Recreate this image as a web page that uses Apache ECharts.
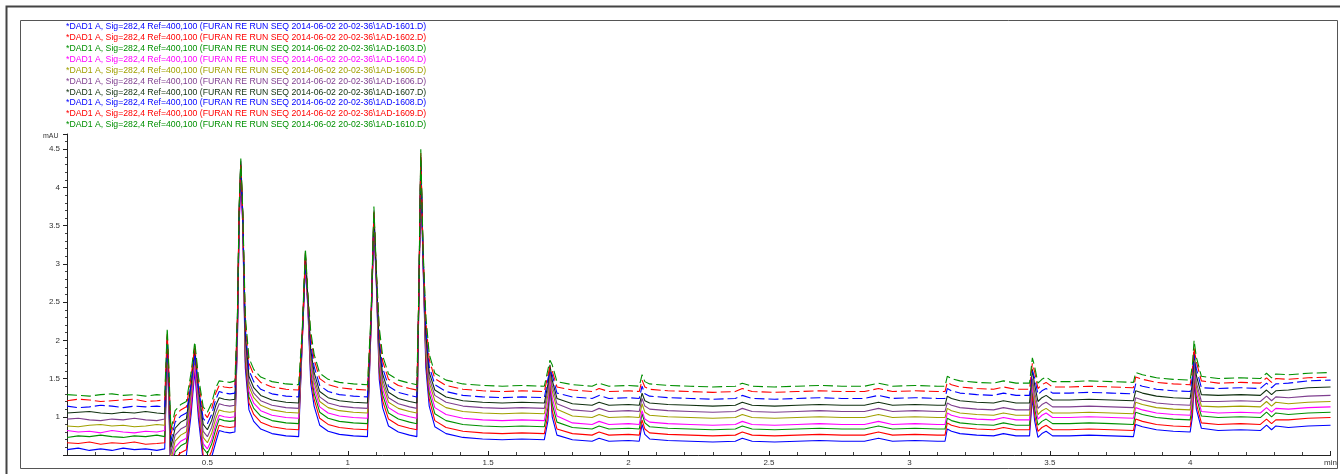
<!DOCTYPE html>
<html><head><meta charset="utf-8">
<script src="https://cdn.jsdelivr.net/npm/echarts@6/dist/echarts.min.js"></script>
<style>html,body{margin:0;padding:0;background:#fff}#c{width:1340px;height:474px}</style>
</head><body><div id="c"></div>
<script>
// retention time (min)
const times = [0,0.04,0.08,0.12,0.16,0.2,0.24,0.28,0.32,0.348,
0.357,0.363,0.37, 0.385,0.405,0.425, 0.442,0.455,0.468, 0.485,0.5,0.515,0.53, 0.542,0.56,0.58,0.598,
0.607,0.613,0.619,0.626,0.635,0.648, 0.665,0.69,0.73,0.78,0.825,
0.838,0.849,0.858,0.868,0.88, 0.9,0.93,0.97,1.02,1.07,
1.083,1.093,1.102,1.112,1.124, 1.145,1.18,1.22,1.246,
1.253,1.26,1.268,1.278,1.29, 1.31,1.35,1.41,1.48,1.55,1.62,1.7,
1.713,1.72,1.728,1.745, 1.8,1.87,1.895,1.93,2.0,2.038,
2.048,2.058,2.075,
2.14,2.22,2.3,2.38,2.405,2.44,2.52,2.6,2.68,2.76,2.84,2.89,2.94,3.02,3.1,3.127,
3.135,3.15,3.18,3.24,3.3,3.335,3.38,3.428,
3.438,3.446,3.458,3.472,3.487,3.51, 3.57,3.64,3.72,3.798,
3.806,3.83,3.88,3.94,4.0, 4.008,4.014,4.022,4.04, 4.1,4.18,4.25,
4.272,4.29,4.305,4.35,4.42,4.5];

// mAU values per run
const s1601 = [0.57,0.59,0.56,0.58,0.56,0.59,0.57,0.58,0.56,0.58,
1.85,1.11,0.12, 0.37,0.45,0.49, 1.03,1.6,0.98, 0.42,0.35,0.47,0.67, 0.82,0.8,0.79,0.8,
2.0,3.5,4.18,3.5,1.64,1.09, 0.94,0.84,0.78,0.75,0.74,
2.0,2.98,2.4,1.44,1.14, 0.89,0.81,0.77,0.75,0.74,
2.2,3.5,2.7,1.49,1.12, 0.88,0.8,0.76,0.74,
2.5,4.22,3.0,1.64,1.14, 0.87,0.78,0.73,0.71,0.7,0.71,0.7,
0.95,1.42,1.0,0.76, 0.7,0.68,0.72,0.68,0.69,0.68,
0.9,0.77,0.71,
0.69,0.68,0.67,0.68,0.72,0.68,0.67,0.68,0.69,0.68,0.68,0.72,0.68,0.69,0.68,0.68,
0.84,0.81,0.78,0.76,0.75,0.78,0.75,0.75,
1.25,0.95,0.73,0.78,0.81,0.75, 0.75,0.76,0.75,0.74,
0.9,0.87,0.83,0.81,0.8, 1.0,1.45,1.1,0.85, 0.82,0.83,0.82,
0.89,0.83,0.88,0.86,0.88,0.89];
const s1602 = [0.66,0.65,0.67,0.64,0.66,0.65,0.67,0.64,0.65,0.66,
1.9,1.18,0.2, 0.45,0.53,0.57, 1.12,1.7,1.07, 0.5,0.43,0.55,0.75, 0.89,0.87,0.86,0.87,
2.05,3.55,4.25,3.55,1.73,1.18, 1.03,0.93,0.87,0.84,0.83,
2.0,3.05,2.45,1.53,1.23, 0.98,0.9,0.86,0.84,0.83,
2.2,3.58,2.75,1.58,1.21, 0.97,0.89,0.85,0.83,
2.5,4.3,3.05,1.73,1.23, 0.95,0.86,0.81,0.79,0.78,0.79,0.78,
1.03,1.48,1.08,0.84, 0.78,0.76,0.8,0.76,0.77,0.76,
0.96,0.84,0.79,
0.77,0.76,0.75,0.76,0.8,0.76,0.75,0.76,0.77,0.76,0.76,0.8,0.76,0.77,0.76,0.76,
0.92,0.89,0.86,0.84,0.83,0.86,0.83,0.83,
1.3,1.03,0.81,0.86,0.89,0.83, 0.83,0.84,0.83,0.82,
0.97,0.94,0.9,0.88,0.87, 1.07,1.5,1.17,0.92, 0.9,0.91,0.9,
0.97,0.91,0.96,0.96,0.98,0.99];
const s1603 = [0.73,0.75,0.74,0.76,0.74,0.73,0.75,0.74,0.76,0.74,
1.95,1.25,0.29, 0.54,0.62,0.66, 1.2,1.75,1.15, 0.59,0.52,0.64,0.84, 0.97,0.95,0.94,0.95,
2.15,3.65,4.3,3.6,1.81,1.26, 1.11,1.01,0.95,0.92,0.91,
2.05,3.12,2.5,1.61,1.31, 1.06,0.98,0.94,0.92,0.91,
2.25,3.65,2.8,1.66,1.29, 1.05,0.97,0.93,0.91,
2.55,4.38,3.1,1.81,1.31, 1.04,0.95,0.9,0.88,0.87,0.88,0.87,
1.12,1.52,1.17,0.93, 0.86,0.84,0.88,0.84,0.85,0.84,
1.04,0.92,0.87,
0.85,0.84,0.83,0.84,0.88,0.84,0.83,0.84,0.85,0.84,0.84,0.88,0.84,0.85,0.84,0.84,
0.98,0.95,0.92,0.9,0.89,0.92,0.89,0.89,
1.38,1.11,0.89,0.94,0.97,0.91, 0.91,0.92,0.91,0.9,
1.06,1.03,0.99,0.97,0.96, 1.16,1.58,1.26,1.01, 0.99,1.0,0.99,
1.06,1.0,1.05,1.03,1.05,1.06];
const s1604 = [0.82,0.8,0.81,0.79,0.82,0.8,0.79,0.81,0.8,0.82,
1.92,1.26,0.35, 0.6,0.68,0.72, 1.19,1.68,1.14, 0.65,0.58,0.7,0.9, 1.02,1.0,0.99,1.0,
2.1,3.5,4.15,3.5,1.88,1.33, 1.18,1.08,1.02,0.99,0.98,
2.0,3.0,2.45,1.68,1.38, 1.13,1.05,1.01,0.99,0.98,
2.2,3.55,2.75,1.73,1.36, 1.12,1.04,1.0,0.98,
2.5,4.25,3.05,1.88,1.38, 1.12,1.03,0.98,0.96,0.95,0.96,0.95,
1.2,1.5,1.25,1.01, 0.92,0.9,0.94,0.9,0.91,0.9,
1.08,0.97,0.93,
0.91,0.9,0.89,0.9,0.94,0.9,0.89,0.9,0.91,0.9,0.9,0.94,0.9,0.91,0.9,0.9,
1.05,1.02,0.99,0.97,0.96,0.99,0.96,0.96,
1.4,1.19,0.97,1.02,1.05,0.99, 0.99,1.0,0.99,0.98,
1.12,1.09,1.05,1.03,1.02, 1.22,1.6,1.32,1.07, 1.05,1.06,1.05,
1.12,1.06,1.11,1.1,1.12,1.13];
const s1605 = [0.88,0.87,0.89,0.9,0.88,0.89,0.87,0.88,0.9,0.89,
2.0,1.34,0.43, 0.68,0.76,0.8, 1.29,1.8,1.24, 0.73,0.66,0.78,0.98, 1.09,1.07,1.06,1.07,
2.2,3.65,4.28,3.6,1.95,1.4, 1.25,1.15,1.09,1.06,1.05,
2.05,3.08,2.5,1.75,1.45, 1.2,1.12,1.08,1.06,1.05,
2.25,3.62,2.8,1.8,1.43, 1.19,1.11,1.07,1.05,
2.55,4.35,3.1,1.95,1.45, 1.21,1.12,1.07,1.05,1.04,1.05,1.04,
1.29,1.58,1.34,1.1, 1.01,0.99,1.03,0.99,1.0,0.99,
1.17,1.06,1.02,
1.0,0.99,0.98,0.99,1.03,0.99,0.98,0.99,1.0,0.99,0.99,1.03,0.99,1.0,0.99,0.99,
1.11,1.08,1.05,1.03,1.02,1.05,1.02,1.02,
1.48,1.25,1.03,1.08,1.11,1.05, 1.05,1.06,1.05,1.04,
1.19,1.16,1.12,1.1,1.09, 1.29,1.68,1.39,1.14, 1.13,1.14,1.13,
1.2,1.14,1.19,1.17,1.19,1.2];
const s1606 = [0.97,0.98,0.96,0.95,0.97,0.96,0.98,0.96,0.95,0.97,
1.97,1.37,0.51, 0.76,0.84,0.88, 1.36,1.85,1.31, 0.81,0.74,0.86,1.06, 1.17,1.15,1.14,1.15,
2.25,3.7,4.35,3.65,2.01,1.46, 1.31,1.21,1.15,1.12,1.11,
2.1,3.15,2.55,1.81,1.51, 1.26,1.18,1.14,1.12,1.11,
2.3,3.7,2.85,1.86,1.49, 1.25,1.17,1.13,1.11,
2.6,4.42,3.15,2.01,1.51, 1.28,1.19,1.14,1.12,1.11,1.12,1.11,
1.36,1.6,1.41,1.17, 1.09,1.07,1.11,1.07,1.08,1.07,
1.24,1.14,1.1,
1.08,1.07,1.06,1.07,1.11,1.07,1.06,1.07,1.08,1.07,1.07,1.11,1.07,1.08,1.07,1.07,
1.18,1.15,1.12,1.1,1.09,1.12,1.09,1.09,
1.5,1.33,1.11,1.16,1.19,1.13, 1.13,1.14,1.13,1.12,
1.25,1.22,1.18,1.16,1.15, 1.35,1.72,1.45,1.2, 1.2,1.21,1.2,
1.27,1.21,1.26,1.25,1.27,1.28];
const s1607 = [1.05,1.06,1.07,1.05,1.04,1.06,1.05,1.07,1.05,1.04,
2.05,1.45,0.6, 0.85,0.93,0.97, 1.43,1.9,1.38, 0.9,0.83,0.95,1.15, 1.25,1.23,1.22,1.23,
2.3,3.7,4.33,3.65,2.08,1.53, 1.38,1.28,1.22,1.19,1.18,
2.1,3.1,2.55,1.88,1.58, 1.33,1.25,1.21,1.19,1.18,
2.3,3.66,2.85,1.93,1.56, 1.32,1.24,1.2,1.18,
2.6,4.4,3.15,2.08,1.58, 1.35,1.26,1.21,1.19,1.18,1.19,1.18,
1.43,1.68,1.48,1.24, 1.17,1.15,1.19,1.15,1.16,1.15,
1.31,1.21,1.18,
1.16,1.15,1.14,1.15,1.19,1.15,1.14,1.15,1.16,1.15,1.15,1.19,1.15,1.16,1.15,1.15,
1.27,1.24,1.21,1.19,1.18,1.21,1.18,1.18,
1.62,1.42,1.2,1.25,1.28,1.22, 1.22,1.23,1.22,1.21,
1.34,1.31,1.27,1.25,1.24, 1.44,1.85,1.54,1.29, 1.28,1.29,1.28,
1.35,1.29,1.34,1.35,1.38,1.39];
const s1608 = [1.14,1.12,1.13,1.15,1.14,1.12,1.14,1.13,1.14,1.13,
2.02,1.48,0.68, 0.93,1.01,1.05, 1.43,1.82,1.38, 0.98,0.91,1.03,1.23, 1.33,1.31,1.3,1.31,
2.2,3.6,4.22,3.6,2.16,1.61, 1.46,1.36,1.3,1.27,1.26,
2.05,3.02,2.5,1.96,1.66, 1.41,1.33,1.29,1.27,1.26,
2.25,3.6,2.8,2.01,1.64, 1.4,1.32,1.28,1.26,
2.55,4.32,3.1,2.16,1.66, 1.42,1.33,1.28,1.26,1.25,1.26,1.25,
1.5,1.6,1.55,1.31, 1.26,1.24,1.28,1.24,1.25,1.24,
1.4,1.3,1.27,
1.25,1.24,1.23,1.24,1.28,1.24,1.23,1.24,1.25,1.24,1.24,1.28,1.24,1.25,1.24,1.24,
1.37,1.34,1.31,1.29,1.28,1.31,1.28,1.28,
1.6,1.51,1.29,1.34,1.37,1.31, 1.31,1.32,1.31,1.3,
1.43,1.4,1.36,1.34,1.33, 1.53,1.82,1.63,1.38, 1.37,1.38,1.37,
1.44,1.38,1.43,1.44,1.47,1.48];
const s1609 = [1.21,1.23,1.22,1.2,1.21,1.22,1.23,1.2,1.21,1.22,
2.1,1.56,0.76, 1.01,1.09,1.13, 1.52,1.93,1.47, 1.06,0.99,1.11,1.31, 1.41,1.39,1.38,1.39,
2.3,3.7,4.3,3.65,2.25,1.7, 1.55,1.45,1.39,1.36,1.35,
2.1,3.14,2.55,2.05,1.75, 1.5,1.42,1.38,1.36,1.35,
2.3,3.68,2.85,2.1,1.73, 1.49,1.41,1.37,1.35,
2.6,4.45,3.15,2.25,1.75, 1.5,1.41,1.36,1.34,1.33,1.34,1.33,
1.55,1.65,1.6,1.39, 1.35,1.33,1.37,1.33,1.34,1.33,
1.48,1.39,1.36,
1.34,1.33,1.32,1.33,1.37,1.33,1.32,1.33,1.34,1.33,1.33,1.37,1.33,1.34,1.33,1.33,
1.45,1.42,1.39,1.37,1.36,1.39,1.36,1.36,
1.7,1.59,1.37,1.42,1.45,1.39, 1.39,1.4,1.39,1.38,
1.52,1.49,1.45,1.43,1.42, 1.62,1.9,1.72,1.47, 1.44,1.45,1.44,
1.51,1.45,1.5,1.49,1.51,1.52];
const s1610 = [1.29,1.28,1.27,1.29,1.3,1.28,1.29,1.27,1.29,1.28,
2.16,1.62,0.83, 1.08,1.16,1.2, 1.58,1.98,1.53, 1.13,1.06,1.18,1.38, 1.47,1.46,1.45,1.47,
2.35,3.75,4.38,3.7,2.32,1.77, 1.62,1.52,1.46,1.43,1.42,
2.15,3.2,2.6,2.12,1.82, 1.57,1.49,1.45,1.43,1.42,
2.35,3.75,2.9,2.17,1.8, 1.56,1.48,1.44,1.42,
2.65,4.5,3.2,2.32,1.82, 1.57,1.48,1.43,1.41,1.4,1.41,1.4,
1.62,1.74,1.68,1.46, 1.42,1.4,1.44,1.4,1.41,1.4,
1.55,1.46,1.43,
1.41,1.4,1.39,1.4,1.44,1.4,1.39,1.4,1.41,1.4,1.4,1.44,1.4,1.41,1.4,1.4,
1.53,1.5,1.47,1.45,1.44,1.47,1.44,1.44,
1.77,1.66,1.44,1.49,1.52,1.46, 1.46,1.47,1.46,1.45,
1.58,1.55,1.51,1.49,1.48, 1.68,2.0,1.78,1.53, 1.5,1.51,1.5,
1.57,1.51,1.56,1.55,1.57,1.58];

const runIds = ['1AD-1601','1AD-1602','1AD-1603','1AD-1604','1AD-1605','1AD-1606','1AD-1607','1AD-1608','1AD-1609','1AD-1610'];
const traceLabelPrefix = '*DAD1 A, Sig=282,4 Ref=400,100 (FURAN RE RUN SEQ 2014-06-02 20-02-36\\';
const yUnit = 'mAU';
const xUnit = 'min';

const traces = [s1601,s1602,s1603,s1604,s1605,s1606,s1607,s1608,s1609,s1610];
const colors = ['#0000ff','#ff0000','#009000','#ff00ff','#a0a000','#7f3f8f','#103010','#0000ff','#ff0000','#009000'];
const dashed = [false,false,false,false,false,false,false,true,true,true];

const chart = echarts.init(document.getElementById('c'), null, {renderer:'canvas'});
const FONT = '"Liberation Sans", Arial, sans-serif';

const series = traces.map((arr, i) => ({
  type: 'line',
  name: runIds[i],
  data: times.map((t, k) => [t, arr[k]]),
  showSymbol: false,
  symbol: 'none',
  smooth: false,
  lineStyle: { color: colors[i], width: 1.1, type: dashed[i] ? [10, 4] : 'solid' },
  itemStyle: { color: colors[i] },
  z: 2 + i,
  animation: false
}));

const legendTexts = runIds.map((id, i) => ({
  type: 'text',
  left: 66,
  top: 22.5 + i * 10.86,
  style: { text: traceLabelPrefix + id + '.D)', fill: colors[i], font: '8.7px ' + FONT }
}));

chart.setOption({
  animation: false,
  backgroundColor: '#fff',
  grid: { left: 67, right: 8, top: 134, bottom: 19, containLabel: false },
  xAxis: {
    type: 'value', min: 0, max: 4.5, interval: 0.5,
    axisLine: { show: true, lineStyle: { color: '#222', width: 1 } },
    axisTick: { show: true, inside: true, length: 4, lineStyle: { color: '#222' } },
    minorTick: { show: true, splitNumber: 5, length: 3, lineStyle: { color: '#444' } },
    splitLine: { show: false },
    axisLabel: {
      margin: 4, color: '#333', fontSize: 8, fontFamily: FONT,
      formatter: v => (Math.abs(v) < 1e-9 ? '' : (Math.abs(v - 4.5) < 1e-9 ? xUnit : String(+v.toFixed(1))))
    }
  },
  yAxis: {
    type: 'value', min: 0.5, max: 4.7, interval: 0.5,
    axisLine: { show: true, lineStyle: { color: '#222', width: 1 } },
    axisTick: { show: true, inside: false, length: 4, lineStyle: { color: '#222' } },
    minorTick: { show: true, splitNumber: 5, length: 2, lineStyle: { color: '#444' } },
    splitLine: { show: false },
    axisLabel: {
      margin: 7, color: '#333', fontSize: 8, fontFamily: FONT,
      formatter: v => {
        const r = Math.round(v * 2) / 2;
        if (Math.abs(v - r) > 1e-6 || r < 0.99 || r > 4.51) return '';
        return String(r);
      }
    }
  },
  series: series,
  graphic: [
    { type: 'rect', silent: true, shape: { x: 6.5, y: 6.5, width: 1400, height: 500 }, style: { fill: 'none', stroke: '#444', lineWidth: 2 }, z: 0 },
    { type: 'rect', silent: true, shape: { x: 20.5, y: 20.5, width: 1317, height: 448 }, style: { fill: 'none', stroke: '#555', lineWidth: 1 }, z: 0 },
    { type: 'text', left: 43, top: 133, style: { text: yUnit, fill: '#333', font: '7px ' + FONT } },
    ...legendTexts
  ]
});
</script>
</body></html>
